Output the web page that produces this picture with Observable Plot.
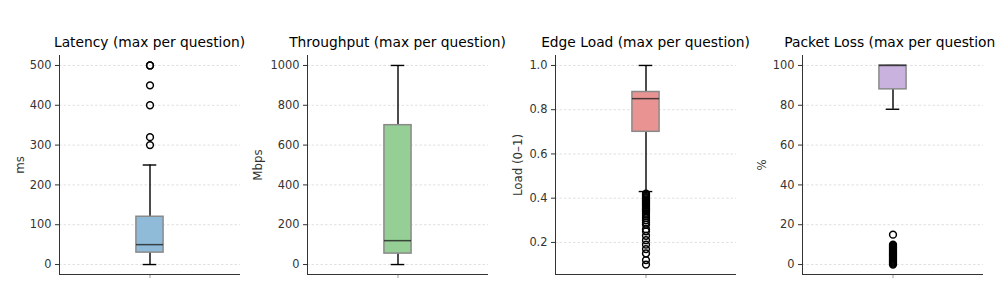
<!DOCTYPE html>
<html><head><meta charset="utf-8">
<script src="https://cdn.jsdelivr.net/npm/d3@7"></script>
<script src="https://cdn.jsdelivr.net/npm/@observablehq/plot@0.6"></script>
<style>
html,body{margin:0;padding:0;background:#fff;overflow:hidden}
#chart{position:relative;width:996px;height:291px;overflow:hidden;font-family:"DejaVu Sans",sans-serif}
.panel{position:absolute;top:0}
.title{position:absolute;width:400px;text-align:center;font-size:13.8px;line-height:1;color:#000;white-space:nowrap;top:36.3px}
</style></head><body><div id="chart"></div>
<script>
// ---- data ----
const titles = ["Latency (max per question)", "Throughput (max per question)", "Edge Load (max per question)", "Packet Loss (max per question)"];
const yLabels = ["ms", "Mbps", "Load (0–1)", "%"];
const colors = ["#8fbbd9", "#95cf95", "#ea9393", "#c9b3de"];
const whiskerLow  = [0,   0,    0.43, 78];
const q1          = [30,  55,   0.70, 88];
const median      = [50,  120,  0.85, 100];
const q3          = [120, 700,  0.88, 100];
const whiskerHigh = [250, 1000, 1.00, 100];
const latencyOutliers = [300, 320, 400, 450, 500, 500];
const throughputOutliers = [];
const edgeLoadOutliers = [0.10, 0.12, 0.15, 0.17, 0.19, 0.21, 0.23, 0.25, 0.26, 0.28, 0.29, 0.30, 0.31, 0.32, 0.33, 0.34, 0.345, 0.35, 0.355, 0.36, 0.365, 0.37, 0.375, 0.38, 0.385, 0.39, 0.395, 0.40, 0.405, 0.41, 0.415, 0.42];
const packetLossOutliers = [0, 0.5, 1, 1.5, 2, 2.5, 3, 3.5, 4, 4.5, 5, 5.5, 6, 6.5, 7, 7.5, 8, 8.5, 9, 9.5, 10, 15];
const outliers = [latencyOutliers, throughputOutliers, edgeLoadOutliers, packetLossOutliers];
const yTicks = [
  [0, 100, 200, 300, 400, 500],
  [0, 200, 400, 600, 800, 1000],
  [0.2, 0.4, 0.6, 0.8, 1.0],
  [0, 20, 40, 60, 80, 100]
];
const tickFormats = [d3.format("d"), d3.format("d"), d3.format(".1f"), d3.format("d")];

// ---- layout ----
const frameLeft = [59, 307, 555, 802];
const frameW = 181, frameTop = 55, frameBottom = 274;
const W = 248, H = 291;
const labelOffsets = [39, 49.5, 37.5, 40];

const chart = document.getElementById("chart");
for (let i = 0; i < 4; i++) {
  const all = [whiskerLow[i], whiskerHigh[i], ...outliers[i]];
  const lo = d3.min(all), hi = d3.max(all), pad = (hi - lo) * 0.05;
  const domain = [lo - pad, hi + pad];
  const box = [{x: 1, lo: whiskerLow[i], q1: q1[i], med: median[i], q3: q3[i], hi: whiskerHigh[i]}];
  const pts = outliers[i].map(v => ({x: 1, y: v}));
  const svgLeft = frameLeft[i] - 59;
  const p = Plot.plot({
    width: W, height: H,
    marginLeft: 59, marginRight: W - 59 - frameW, marginTop: frameTop, marginBottom: H - frameBottom,
    style: {fontFamily: "DejaVu Sans", fontSize: "11.4px", color: "#333", background: "transparent", overflow: "visible"},
    x: {domain: [0.5, 1.5], label: null},
    y: {domain, label: null},
    marks: [
      Plot.ruleY(yTicks[i], {stroke: "#d2d2d2", strokeWidth: 0.7, strokeDasharray: "2.5,2"}),
      Plot.axisY({ticks: yTicks[i], tickFormat: tickFormats[i], tickSize: 4, tickPadding: 4, stroke: "#333", label: null}),
      Plot.text([yLabels[i]], {frameAnchor: "left", dx: -labelOffsets[i], rotate: -90, fontSize: 11.8, fill: "#333", textAnchor: "middle"}),
      Plot.axisX({ticks: [1], tickFormat: () => "", tickSize: 4, stroke: "#999", label: null}),
      Plot.ruleX(box, {x: "x", y1: "lo", y2: "q1", stroke: "black", strokeWidth: 1.4}),
      Plot.ruleX(box, {x: "x", y1: "q3", y2: "hi", stroke: "black", strokeWidth: 1.4}),
      Plot.ruleY(box, {y: "lo", x1: d => d.x - 0.0375, x2: d => d.x + 0.0375, stroke: "black", strokeWidth: 1.4}),
      Plot.ruleY(box, {y: "hi", x1: d => d.x - 0.0375, x2: d => d.x + 0.0375, stroke: "black", strokeWidth: 1.4}),
      Plot.rect(box, {x1: d => d.x - 0.075, x2: d => d.x + 0.075, y1: "q1", y2: "q3", fill: colors[i], stroke: "#8a8a8a", strokeWidth: 1.5}),
      Plot.ruleY(box, {y: "med", x1: d => d.x - 0.075, x2: d => d.x + 0.075, stroke: "#222", strokeOpacity: 0.8, strokeWidth: 1.5}),
      Plot.dot(pts, {x: "x", y: "y", r: 3.4, stroke: "black", fill: "none", strokeWidth: 1.5}),
      Plot.ruleX([0.5], {stroke: "#333", strokeWidth: 1}),
      Plot.ruleY([domain[0]], {stroke: "#333", strokeWidth: 1})
    ]
  });
  const wrap = document.createElement("div");
  wrap.className = "panel";
  wrap.style.left = svgLeft + "px";
  wrap.appendChild(p);
  chart.appendChild(wrap);
  const t = document.createElement("div");
  t.className = "title";
  t.textContent = titles[i];
  t.style.left = (frameLeft[i] + frameW / 2 - 200) + "px";
  chart.appendChild(t);
}
</script></body></html>
